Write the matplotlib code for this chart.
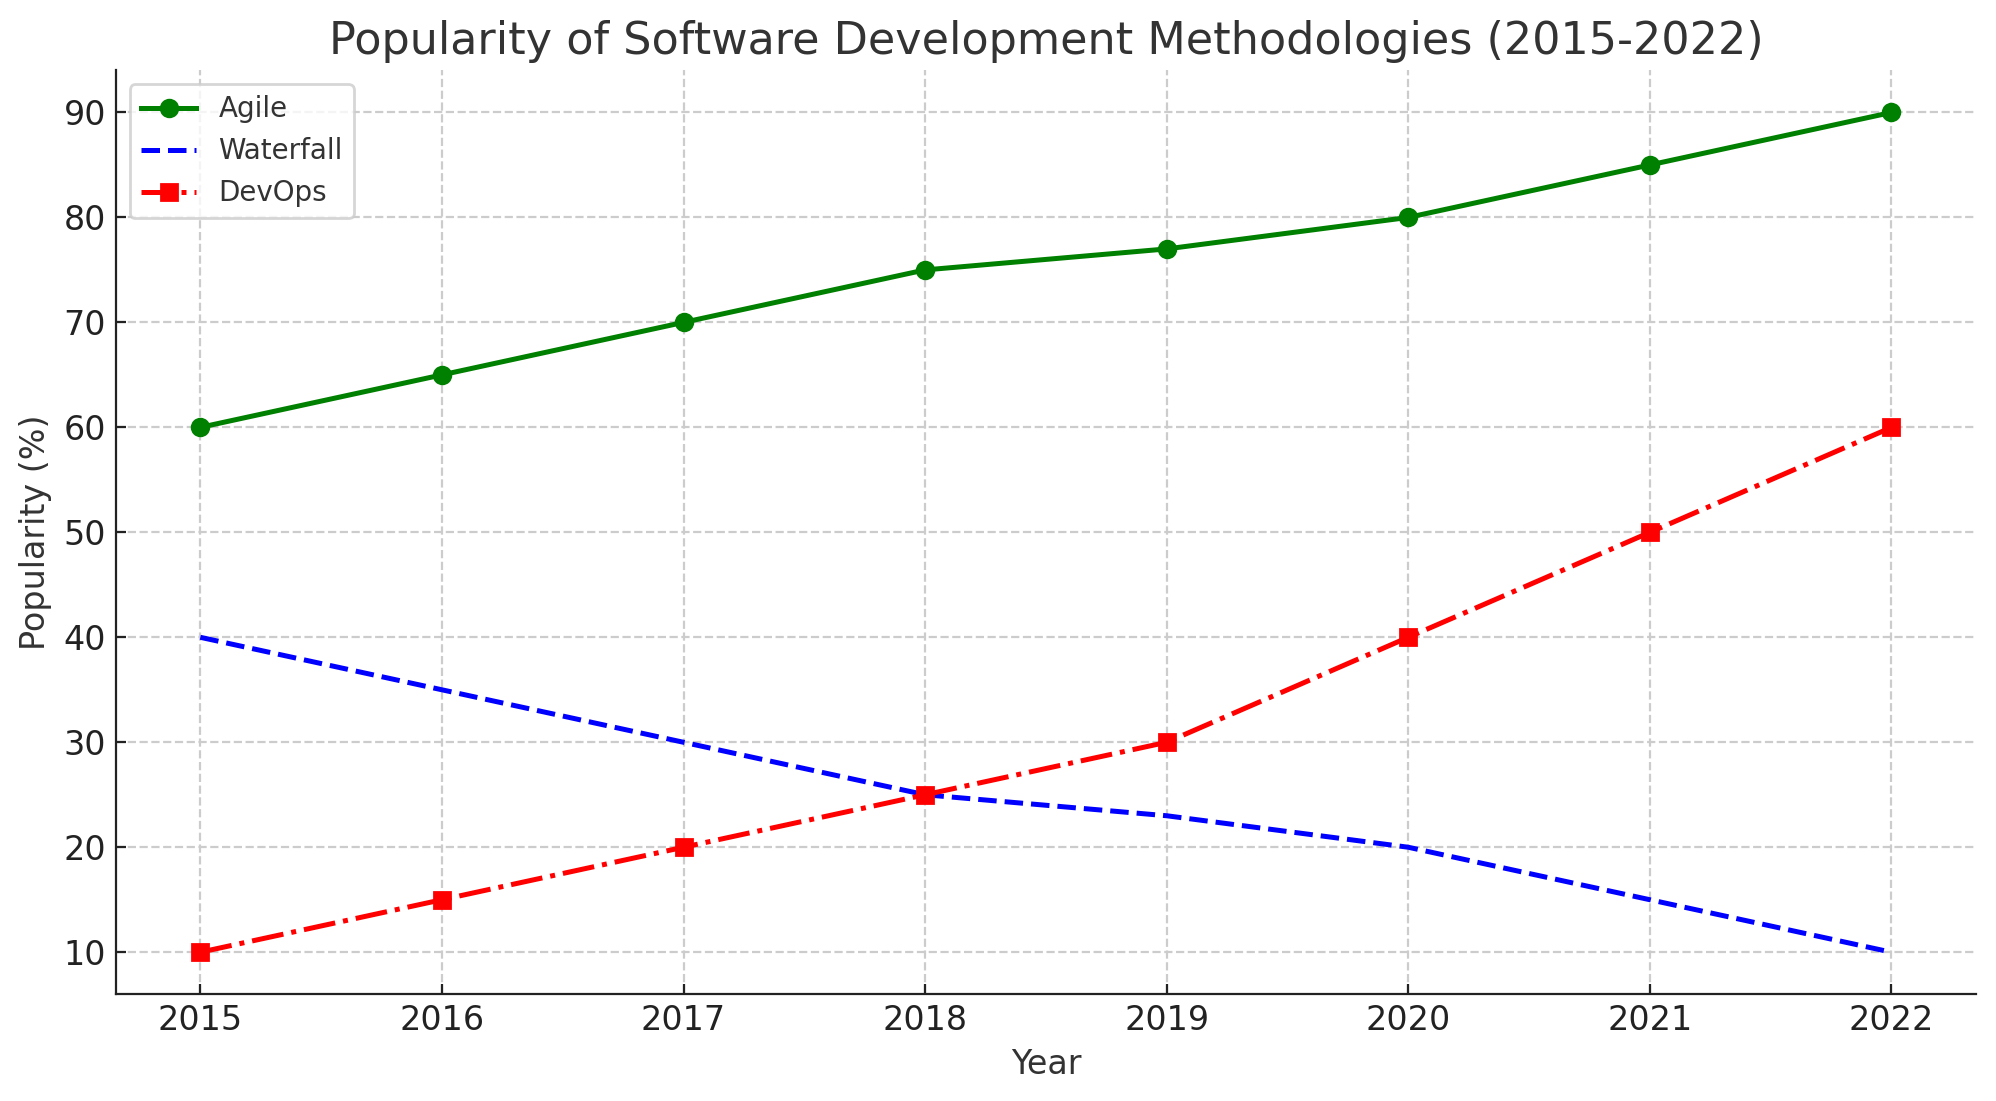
import matplotlib.pyplot as plt

# Data
years = [2015, 2016, 2017, 2018, 2019, 2020, 2021, 2022]
agile = [60, 65, 70, 75, 77, 80, 85, 90]
waterfall = [40, 35, 30, 25, 23, 20, 15, 10]
devops = [10, 15, 20, 25, 30, 40, 50, 60]

plt.rcParams['font.family'] = 'DejaVu Sans'
text_color = '#333333'

fig, ax = plt.subplots(figsize=(9.98, 5.505), dpi=200)
fig.subplots_adjust(left=0.058, right=0.99, top=0.936, bottom=0.097)

ax.plot(years, agile, color='green', linestyle='-', marker='o', linewidth=1.8, markersize=6, label='Agile')
ax.plot(years, waterfall, color='blue', linestyle='--', linewidth=1.8, label='Waterfall')
ax.plot(years, devops, color='red', linestyle='-.', marker='s', linewidth=1.8, markersize=6, label='DevOps')

ax.set_title('Popularity of Software Development Methodologies (2015-2022)', fontsize=16, color=text_color)
ax.set_xlabel('Year', fontsize=12, color=text_color)
ax.set_ylabel('Popularity (%)', fontsize=12, color=text_color)
ax.set_xticks(years)
ax.tick_params(labelsize=12, colors='#222222', direction='in')
ax.grid(True, linestyle='--', color='#cccccc', linewidth=0.8)

for side in ['top', 'right']:
    ax.spines[side].set_visible(False)
for side in ['left', 'bottom']:
    ax.spines[side].set_color('#222222')

leg = ax.legend(loc='upper left', fontsize=10, framealpha=0.8)
for t in leg.get_texts():
    t.set_color(text_color)

fig.savefig('out.png', dpi=200)
